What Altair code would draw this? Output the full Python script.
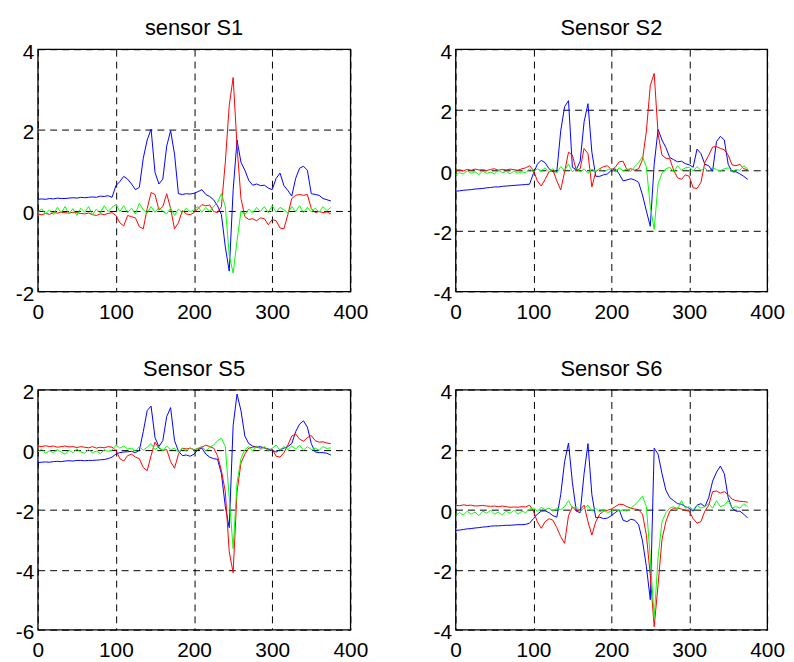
import altair as alt
import pandas as pd

X = list(range(0, 380, 5))

S1_BLUE = [0.28, 0.29, 0.28, 0.30, 0.29, 0.31, 0.30, 0.30, 0.31, 0.32, 0.31, 0.33, 0.32, 0.33, 0.34, 0.33, 0.36, 0.35, 0.37, 0.33,
           0.62, 0.72, 0.85, 0.78, 0.66, 0.52, 0.58, 1.30, 1.75, 2.02, 0.95, 0.66, 0.78, 1.60, 1.98, 1.40, 0.42, 0.40, 0.42, 0.41,
           0.43, 0.47, 0.52, 0.40, 0.35, 0.27, 0.12, -0.10, -0.90, -1.50, 0.50, 1.75, 1.20, 1.00, 0.75, 0.63, 0.66, 0.62, 0.63, 0.56,
           0.52, 0.80, 0.93, 0.62, 0.50, 0.36, 0.80, 1.05, 1.10, 1.00, 0.42, 0.40, 0.38, 0.30, 0.27, 0.24]
S1_RED = [-0.08, -0.10, -0.07, -0.09, -0.05, -0.06, -0.04, -0.05, -0.06, -0.04, -0.05, -0.07, -0.08, -0.06, -0.10, -0.12, -0.08, -0.10, -0.07, -0.05,
          -0.12, -0.30, -0.38, -0.12, -0.15, -0.18, -0.40, -0.45, 0.05, 0.45, 0.40, 0.02, 0.10, 0.42, 0.05, -0.45, -0.30, 0.00, -0.08, -0.10,
          -0.05, 0.05, 0.15, 0.12, 0.14, -0.02, -0.05, 0.10, 1.20, 2.60, 3.30, 1.60, 0.30, -0.15, -0.22, -0.20, -0.25, -0.18, -0.20, -0.35,
          -0.22, -0.25, -0.43, -0.45, -0.10, 0.30, 0.38, 0.40, 0.38, 0.40, 0.05, -0.05, -0.02, -0.05, -0.03, -0.08]
S1_GREEN = [-0.05, 0.05, -0.08, 0.02, -0.10, 0.08, -0.05, 0.10, -0.08, 0.05, -0.12, 0.06, -0.04, 0.10, -0.10, 0.04, -0.06, 0.12, -0.02, 0.08,
            0.15, -0.02, 0.12, -0.05, 0.06, -0.08, 0.18, 0.02, -0.06, 0.10, -0.04, 0.08, -0.02, -0.08, 0.06, -0.12, 0.04, -0.05, 0.06, -0.03,
            0.02, 0.10, -0.04, 0.08, -0.02, 0.10, 0.20, 0.42, 0.10, -1.10, -1.55, -0.75, -0.02, -0.10, 0.04, -0.06, 0.08, -0.02, 0.10, -0.05,
            0.12, -0.04, 0.08, 0.02, -0.06, 0.10, -0.02, 0.12, -0.05, 0.08, -0.03, 0.06, -0.04, 0.10, 0.00, 0.08]

S2_BLUE = [-0.69, -0.68, -0.66, -0.65, -0.64, -0.62, -0.61, -0.60, -0.58, -0.57, -0.55, -0.55, -0.53, -0.52, -0.51, -0.50, -0.49, -0.48, -0.47, -0.46,
           -0.10, 0.20, 0.33, 0.25, 0.05, -0.05, -0.05, 1.30, 2.10, 2.30, 0.10, 0.02, 0.30, 1.60, 2.20, 0.60, -0.20, -0.20, -0.15, -0.12,
           0.00, 0.05, -0.12, -0.35, -0.32, -0.28, -0.32, -0.40, -0.82, -1.35, -1.85, 0.20, 1.35, 1.00, 0.75, 0.42, 0.35, 0.28, 0.30, 0.22,
           0.18, 0.10, 0.70, 0.55, 0.20, 0.15, -0.03, 0.95, 1.12, 1.00, 0.20, -0.05, -0.05, -0.12, -0.20, -0.30]
S2_RED = [0.00, 0.02, -0.02, 0.03, 0.00, 0.04, 0.01, 0.02, -0.01, 0.03, 0.05, 0.00, 0.03, 0.01, 0.04, 0.02, 0.00, 0.05, 0.08, 0.15,
          0.00, -0.35, -0.52, -0.30, -0.05, 0.00, -0.35, -0.65, -0.05, 0.60, 0.50, 0.00, 0.05, 0.72, 0.55, -0.55, -0.05, 0.05, 0.12, 0.15,
          0.02, 0.10, 0.28, 0.30, 0.02, 0.05, 0.00, 0.05, 0.35, 1.30, 2.80, 3.20, 1.20, 0.50, 0.40, 0.38, 0.00, -0.25, -0.30, -0.15,
          -0.20, -0.58, -0.60, -0.40, 0.25, 0.50, 0.77, 0.78, 0.72, 0.68, 0.50, 0.18, 0.15, 0.20, 0.05, 0.02]
S2_GREEN = [-0.15, -0.08, -0.12, -0.02, -0.10, -0.05, -0.14, -0.03, -0.10, -0.06, -0.12, 0.00, -0.08, -0.04, -0.12, -0.02, -0.10, -0.05, -0.08, 0.05,
            -0.05, 0.05, -0.02, 0.08, -0.05, 0.05, -0.08, 0.12, 0.00, 0.20, -0.05, 0.08, -0.06, 0.05, -0.10, 0.04, -0.04, 0.06, -0.06, 0.02,
            0.05, -0.05, 0.08, -0.02, 0.05, -0.04, 0.12, 0.25, 0.45, 0.10, -1.20, -1.95, -0.45, -0.10, 0.05, 0.10, -0.05, 0.15, 0.00, 0.08,
            0.10, -0.02, 0.12, 0.00, 0.08, -0.05, 0.10, 0.02, -0.02, 0.05, 0.08, -0.03, 0.02, 0.00, 0.15, 0.05]

S5_BLUE = [-0.43, -0.42, -0.41, -0.42, -0.40, -0.39, -0.40, -0.38, -0.37, -0.38, -0.36, -0.36, -0.37, -0.36, -0.36, -0.35, -0.34, -0.33, -0.30, -0.25,
           -0.15, -0.10, -0.08, -0.07, -0.06, -0.10, -0.02, 0.60, 1.30, 1.45, 0.40, 0.10, 0.30, 1.10, 1.40, 0.30, -0.05, -0.20, -0.18, -0.22,
           -0.15, 0.00, 0.05, -0.15, -0.25, -0.30, -0.32, -0.80, -1.90, -2.60, 0.80, 1.85, 1.30, 0.45, 0.20, 0.12, 0.08, 0.10, 0.05, 0.02,
           -0.02, -0.08, 0.00, 0.05, 0.10, 0.20, 0.60, 0.85, 0.96, 0.75, 0.20, -0.08, -0.10, -0.10, -0.12, -0.18]
S5_RED = [0.12, 0.10, 0.13, 0.10, 0.12, 0.08, 0.10, 0.12, 0.09, 0.10, 0.07, 0.10, 0.08, 0.06, 0.10, 0.05, 0.08, 0.06, 0.10, 0.08,
          -0.02, -0.30, -0.38, -0.20, -0.15, -0.25, -0.30, -0.60, -0.70, -0.20, 0.25, 0.05, -0.02, 0.00, -0.40, -0.62, -0.15, 0.05, 0.02, 0.05,
          0.00, 0.03, 0.08, 0.15, 0.10, 0.05, -0.20, -0.70, -1.40, -3.40, -4.10, -1.40, -0.45, -0.15, 0.05, 0.08, 0.10, 0.05, 0.08, 0.00,
          0.02, -0.22, -0.25, -0.10, 0.15, 0.45, 0.52, 0.35, 0.28, 0.40, 0.47, 0.30, 0.25, 0.26, 0.22, 0.20]
S5_GREEN = [-0.08, 0.02, -0.12, -0.04, -0.10, 0.00, -0.08, -0.15, -0.02, -0.10, 0.02, -0.08, -0.12, 0.00, -0.10, -0.05, -0.14, 0.00, -0.06, -0.02,
            0.15, 0.05, 0.12, 0.02, 0.05, -0.05, 0.10, -0.02, 0.08, 0.20, 0.00, 0.10, -0.05, 0.12, 0.00, 0.05, -0.08, 0.04, -0.05, 0.06,
            -0.02, 0.05, 0.10, -0.04, 0.08, 0.15, 0.30, 0.38, 0.10, -1.60, -3.30, -1.10, -0.30, 0.00, 0.10, -0.05, 0.12, 0.00, 0.10, -0.05,
            0.05, 0.15, -0.02, 0.10, 0.00, 0.12, 0.02, 0.15, -0.02, 0.10, 0.00, 0.05, -0.02, 0.10, 0.04, 0.06]

S6_BLUE = [-0.69, -0.68, -0.66, -0.64, -0.63, -0.61, -0.60, -0.58, -0.57, -0.55, -0.54, -0.54, -0.53, -0.52, -0.52, -0.51, -0.50, -0.50, -0.49, -0.45,
           -0.30, -0.15, -0.05, -0.04, -0.10, -0.20, -0.25, 0.50, 1.60, 2.22, 0.90, -0.05, -0.10, 1.20, 2.20, 0.50, -0.27, -0.25, -0.30, -0.28,
           -0.20, -0.10, 0.00, -0.35, -0.40, -0.32, -0.35, -0.50, -1.04, -1.90, -3.00, 2.05, 1.85, 1.20, 0.65, 0.40, 0.30, 0.20, 0.18, 0.10,
           0.05, -0.05, 0.15, 0.20, 0.10, 0.40, 0.95, 1.25, 1.45, 1.20, 0.40, 0.05, -0.05, -0.05, -0.15, -0.28]
S6_RED = [0.15, 0.13, 0.16, 0.14, 0.15, 0.12, 0.13, 0.14, 0.12, 0.11, 0.12, 0.10, 0.12, 0.10, 0.08, 0.09, 0.08, 0.10, 0.09, 0.15,
          -0.05, -0.40, -0.62, -0.40, -0.30, -0.35, -0.60, -0.90, -1.12, -0.20, 0.10, -0.05, 0.00, 0.15, -0.40, -0.85, -0.40, -0.15, -0.05, -0.02,
          0.02, 0.10, 0.18, 0.17, 0.10, 0.05, 0.02, 0.00, -0.15, -0.85, -2.20, -3.90, -2.50, -1.00, -0.40, -0.05, 0.05, 0.05, 0.02, -0.02,
          -0.05, -0.30, -0.45, -0.40, -0.05, 0.15, 0.60, 0.62, 0.55, 0.60, 0.50, 0.35, 0.30, 0.28, 0.27, 0.25]
S6_GREEN = [-0.20, -0.10, -0.18, -0.05, -0.15, -0.08, -0.20, -0.05, -0.12, -0.02, -0.15, -0.08, -0.18, -0.05, -0.12, -0.02, -0.15, -0.05, -0.10, 0.02,
            0.05, -0.05, 0.08, 0.00, 0.05, -0.05, 0.05, 0.00, 0.10, 0.30, 0.05, 0.10, -0.05, 0.05, 0.15, -0.05, 0.05, -0.08, 0.00, -0.10,
            -0.05, 0.02, -0.05, 0.00, -0.05, 0.05, 0.15, 0.30, 0.45, 0.10, -1.60, -3.60, -1.60, -0.40, -0.10, 0.05, 0.10, 0.00, 0.30, 0.05,
            0.10, 0.00, 0.15, 0.05, 0.10, 0.20, 0.05, 0.30, 0.10, 0.15, 0.30, 0.05, 0.10, 0.05, 0.20, 0.10]

SERIES = ["blue", "red", "green"]
COLORS = {"blue": "#0000ff", "red": "#ff0000", "green": "#00ff00"}
FONT = "Liberation Sans"


def panel(title, blue, red, green, ymin, ymax, width, height):
    n = len(X)
    df = pd.DataFrame({
        "x": X * 3,
        "y": blue + red + green,
        "s": ["blue"] * n + ["red"] * n + ["green"] * n,
    })
    xenc = alt.X("x:Q", scale=alt.Scale(domain=[0, 400], nice=False),
                 axis=alt.Axis(values=[0, 100, 200, 300, 400], title=None))
    yenc = alt.Y("y:Q", scale=alt.Scale(domain=[ymin, ymax], nice=False),
                 axis=alt.Axis(values=list(range(ymin, ymax + 1, 2)), title=None,
                               labelExpr="'' + datum.value"))
    layers = [
        alt.Chart(df)
        .transform_filter(alt.datum.s == s)
        .mark_line(color=COLORS[s], strokeWidth=1, clip=True)
        .encode(x=xenc, y=yenc)
        for s in SERIES
    ]
    return alt.layer(*layers).properties(width=width, height=height, title=title)


p1 = panel("sensor S1", S1_BLUE, S1_RED, S1_GREEN, -2, 4, 315, 244)
p2 = panel("Sensor S2", S2_BLUE, S2_RED, S2_GREEN, -4, 4, 314, 244)
p5 = panel("Sensor S5", S5_BLUE, S5_RED, S5_GREEN, -6, 2, 315, 242)
p6 = panel("Sensor S6", S6_BLUE, S6_RED, S6_GREEN, -4, 4, 314, 242)

chart = (
    alt.vconcat(
        alt.hconcat(p1, p2, spacing=57),
        alt.hconcat(p5, p6, spacing=57),
        spacing=34,
    )
    .properties(padding={"top": 6, "left": 0, "right": 0, "bottom": 0}, background="white")
    .configure_view(stroke="black", strokeWidth=1.3)
    .configure_axis(
        grid=True, gridColor="black", gridDash=[7, 5], gridOpacity=1, gridWidth=1,
        domain=False, ticks=False, labelFont=FONT, labelFontSize=21, labelColor="black",
        labelFlush=False, labelOverlap=False,
    )
    .configure_axisX(labelPadding=10)
    .configure_axisY(labelPadding=4, minExtent=29, maxExtent=29, labelOffset=3)
    .configure_title(font=FONT, fontSize=22, fontWeight="normal", color="black", offset=1)
)

chart.save("out.html", embed_options={"renderer": "svg", "actions": False})
